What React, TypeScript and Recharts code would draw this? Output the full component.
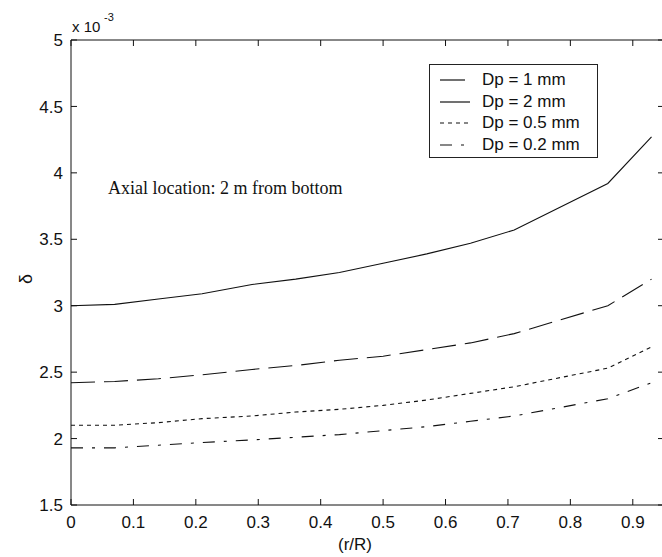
import React from "react";
import { LineChart, Line, XAxis, YAxis, Legend, ReferenceLine } from "recharts";

// radial position r/R
const rR = [0, 0.07, 0.14, 0.21, 0.29, 0.36, 0.43, 0.5, 0.57, 0.64, 0.71, 0.86, 0.93];
// delta values (x 10^-3)
const dp1 = [3.0, 3.01, 3.05, 3.09, 3.16, 3.2, 3.25, 3.32, 3.39, 3.47, 3.57, 3.92, 4.27];
const dp2 = [2.42, 2.43, 2.45, 2.48, 2.52, 2.55, 2.59, 2.62, 2.67, 2.72, 2.79, 3.0, 3.2];
const dp05 = [2.1, 2.1, 2.12, 2.15, 2.17, 2.2, 2.22, 2.25, 2.29, 2.34, 2.39, 2.53, 2.69];
const dp02 = [1.93, 1.93, 1.95, 1.97, 1.99, 2.01, 2.03, 2.06, 2.09, 2.13, 2.17, 2.3, 2.42];

const xTicks = [0, 0.1, 0.2, 0.3, 0.4, 0.5, 0.6, 0.7, 0.8, 0.9];
const yTicks = [1.5, 2, 2.5, 3, 3.5, 4, 4.5, 5];
const xMax = 0.95;
const yMin = 1.5;
const yMax = 5;
const legendLabels = ["Dp = 1 mm", "Dp = 2 mm", "Dp = 0.5 mm", "Dp = 0.2 mm"];
const annotation = "Axial location: 2 m from bottom";

const data = rR.map((x, i) => ({ x, dp1: dp1[i], dp2: dp2[i], dp05: dp05[i], dp02: dp02[i] }));

const FONT = "'Liberation Sans', Arial, Helvetica, sans-serif";
const INK = "#111";
const TICK_LEN = 6;
const MARGIN = 12;

// layout
const CHART_W = 664;
const CHART_H = 557;
const M_TOP = 40;
const Y_AXIS_W = 71;
const X_AXIS_H = 52;
const PLOT_W = CHART_W - Y_AXIS_W;
const PLOT_H = CHART_H - M_TOP - X_AXIS_H;

const fmt = (v: number) => String(v);

const BottomTick = (props: any) => {
  const { x, y, payload } = props;
  const axisY = y - MARGIN;
  const topY = axisY - PLOT_H;
  return (
    <g>
      <line x1={x} x2={x} y1={axisY} y2={axisY - TICK_LEN} stroke={INK} strokeWidth={1} />
      <line x1={x} x2={x} y1={topY} y2={topY + TICK_LEN} stroke={INK} strokeWidth={1} />
      <text x={x} y={y} dy="0.66em" textAnchor="middle" fill={INK} fontSize={17} fontFamily={FONT}>
        {fmt(payload.value)}
      </text>
    </g>
  );
};

const LeftTick = (props: any) => {
  const { x, y, payload } = props;
  const axisX = x + MARGIN;
  const rightX = axisX + PLOT_W;
  return (
    <g>
      <line x1={axisX} x2={axisX + TICK_LEN} y1={y} y2={y} stroke={INK} strokeWidth={1} />
      <line x1={rightX} x2={rightX - TICK_LEN} y1={y} y2={y} stroke={INK} strokeWidth={1} />
      <text x={x + 4} y={y} dy="0.36em" textAnchor="end" fill={INK} fontSize={17} fontFamily={FONT}>
        {fmt(payload.value)}
      </text>
    </g>
  );
};

const legendSamples = [
  { w: 25, dash: undefined },
  { w: 30, dash: undefined },
  { w: 30, dash: "4 4" },
  { w: 26, dash: "12 9 3 9" },
];

const LegendBox = () => (
  <div
    style={{
      position: "absolute",
      left: 429,
      top: 64,
      width: 167,
      height: 92,
      border: "1px solid #222",
      background: "#fff",
      fontFamily: FONT,
      fontSize: 17,
      color: INK,
      boxSizing: "content-box",
    }}
  >
    {legendLabels.map((lab, i) => (
      <div key={lab} style={{ position: "absolute", left: 0, top: 4 + i * 21.7, height: 22, width: 167 }}>
        <svg width={40} height={22} style={{ position: "absolute", left: 10, top: 0 }}>
          <line
            x1={0}
            x2={legendSamples[i].w}
            y1={11}
            y2={11}
            stroke={INK}
            strokeWidth={1.2}
            strokeDasharray={legendSamples[i].dash}
          />
        </svg>
        <span style={{ position: "absolute", left: 52, top: 0, lineHeight: "22px", whiteSpace: "nowrap" }}>{lab}</span>
      </div>
    ))}
  </div>
);

export default function App() {
  return (
    <div
      style={{
        position: "absolute",
        left: 0,
        top: 0,
        width: 662,
        height: 557,
        overflow: "hidden",
        background: "#fff",
      }}
    >
      <LineChart width={CHART_W} height={CHART_H} data={data} margin={{ top: M_TOP, right: 0, bottom: 0, left: 0 }}>
        <XAxis
          dataKey="x"
          type="number"
          domain={[0, xMax]}
          ticks={xTicks}
          height={X_AXIS_H}
          tickSize={0}
          tickMargin={MARGIN}
          axisLine={{ stroke: INK, strokeWidth: 1 }}
          tickLine={false}
          tick={BottomTick}
          interval={0}
        />
        <YAxis
          type="number"
          domain={[yMin, yMax]}
          ticks={yTicks}
          width={Y_AXIS_W}
          tickSize={0}
          tickMargin={MARGIN}
          axisLine={{ stroke: INK, strokeWidth: 1 }}
          tickLine={false}
          tick={LeftTick}
          interval={0}
        />
        <ReferenceLine y={yMax} stroke={INK} strokeWidth={1} ifOverflow="visible" />
        <ReferenceLine x={xMax} stroke={INK} strokeWidth={1} ifOverflow="visible" />
        <Line dataKey="dp1" name={legendLabels[0]} stroke={INK} strokeWidth={1.1} dot={false} isAnimationActive={false} type="linear" />
        <Line dataKey="dp2" name={legendLabels[1]} stroke={INK} strokeWidth={1.1} strokeDasharray="24 9" dot={false} isAnimationActive={false} type="linear" />
        <Line dataKey="dp05" name={legendLabels[2]} stroke={INK} strokeWidth={1.1} strokeDasharray="4 4" dot={false} isAnimationActive={false} type="linear" />
        <Line dataKey="dp02" name={legendLabels[3]} stroke={INK} strokeWidth={1.1} strokeDasharray="12 9 3 9" dot={false} isAnimationActive={false} type="linear" />
        <Legend content={() => <LegendBox />} wrapperStyle={{ position: "absolute", left: 0, top: 0, width: 0, height: 0 }} />
      </LineChart>
      <svg
        width={662}
        height={557}
        style={{ position: "absolute", left: 0, top: 0, pointerEvents: "none" }}
      >
        <text x={72} y={32} fontFamily={FONT} fontSize={15} fill={INK}>x 10</text>
        <text x={104} y={21} fontFamily={FONT} fontSize={11} fill={INK}>-3</text>
        <text
          x={0}
          y={0}
          transform="translate(32,279) rotate(-90)"
          textAnchor="middle"
          fontFamily={FONT}
          fontSize={18}
          fill={INK}
        >
          δ
        </text>
        <text x={355} y={550} textAnchor="middle" fontFamily={FONT} fontSize={17} fill={INK}>(r/R)</text>
        <text x={108} y={194} fontFamily="'Liberation Serif', 'Times New Roman', serif" fontSize={18} fill={INK}>
          {annotation}
        </text>
      </svg>
    </div>
  );
}
